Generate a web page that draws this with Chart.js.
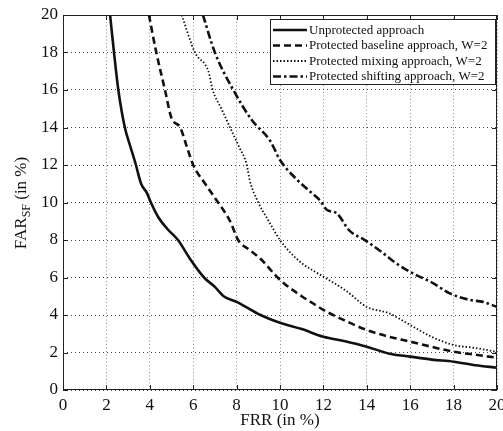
<!DOCTYPE html>
<html>
<head>
<meta charset="utf-8">
<script src="https://cdn.jsdelivr.net/npm/chart.js@4"></script>
<style>
  html, body { margin: 0; padding: 0; background: #fff; }
  #wrap { width: 503px; height: 431px; }
</style>
</head>
<body>
<div id="wrap"><canvas id="farChart" width="503" height="431"></canvas></div>
<script>
// curves: FRR (x) vs FAR_SF (y), both in %
const unprotectedFRR = [2.17, 2.35, 2.55, 2.85, 3.1, 3.36, 3.6, 3.87, 4.05, 4.4, 4.8, 5.3, 5.85, 6.5, 7.0, 7.4, 8.0, 9.1, 10.0, 11.0, 12.0, 13.0, 14.0, 15.0, 16.0, 17.0, 18.0, 19.0, 20.0];
const unprotectedFAR = [20, 18, 16, 14, 13, 12, 11, 10.5, 10, 9.2, 8.6, 8, 7, 6, 5.5, 5, 4.7, 4, 3.59, 3.25, 2.84, 2.6, 2.31, 1.95, 1.78, 1.62, 1.51, 1.32, 1.19];

const baselineFRR = [3.96, 4.3, 4.7, 5.0, 5.4, 5.7, 6.0, 6.55, 7.15, 7.7, 8.07, 8.6, 9.1, 10.0, 11.0, 11.5, 12.0, 13.0, 14.0, 15.0, 16.0, 17.0, 18.0, 19.0, 20.0];
const baselineFAR = [20, 18, 16, 14.5, 14, 13, 12, 11, 10, 9, 8, 7.47, 7.0, 5.87, 5.0, 4.64, 4.27, 3.7, 3.2, 2.85, 2.58, 2.3, 2.04, 1.88, 1.72];

const mixingFRR = [5.47, 6.08, 6.7, 6.9, 7.3, 7.7, 8.1, 8.47, 8.6, 9.0, 9.45, 10.0, 10.5, 11.0, 12.0, 13.0, 14.0, 15.0, 16.0, 17.0, 18.0, 19.0, 20.0];
const mixingFAR = [20, 18, 17, 16, 15, 14, 13, 12, 11.2, 10, 9.07, 8.0, 7.3, 6.77, 6.04, 5.33, 4.43, 4.1, 3.47, 2.83, 2.4, 2.24, 2.03];

const shiftingFRR = [6.45, 7.0, 7.85, 8.7, 9.54, 10.0, 10.8, 11.3, 11.85, 12.17, 12.6, 13.2, 13.9, 14.75, 15.3, 16.0, 17.05, 17.8, 18.76, 19.35, 20.0];
const shiftingFAR = [20, 18, 16, 14.4, 13.3, 12.27, 11.2, 10.67, 10.1, 9.6, 9.44, 8.5, 8.0, 7.3, 6.8, 6.3, 5.7, 5.17, 4.8, 4.7, 4.43];

const seriesNames = ['Unprotected approach', 'Protected baseline approach, W=2', 'Protected mixing approach, W=2', 'Protected shifting approach, W=2'];
const tickValues = [0, 2, 4, 6, 8, 10, 12, 14, 16, 18, 20];

const SERIF = '"Liberation Serif", "Times New Roman", serif';

function pts(xs, ys) {
    return xs.map((x, i) => ({ x: x, y: ys[i] }));
}

function lineSet(label, xs, ys, dash, width) {
    return {
        label: label,
        data: pts(xs, ys),
        borderColor: '#111',
        borderWidth: width,
        borderDash: dash,
        pointRadius: 0,
        fill: false,
        cubicInterpolationMode: 'monotone'
    };
}

// box, inward ticks, legend and the y title with its subscript
const decorations = {
    id: 'decorations',
    afterDatasetsDraw(chart) {
        const c = chart.ctx;
        const a = chart.chartArea;
        const xs = chart.scales.x, ys = chart.scales.y;
        c.save();
        c.strokeStyle = '#222';
        c.lineWidth = 1;
        c.setLineDash([]);
        c.strokeRect(a.left + 0.5, a.top + 0.5, a.right - a.left - 1, a.bottom - a.top - 1);
        c.beginPath();
        tickValues.forEach(v => {
            const px = Math.round(xs.getPixelForValue(v)) + 0.5;
            c.moveTo(px, a.bottom); c.lineTo(px, a.bottom - 5);
            c.moveTo(px, a.top); c.lineTo(px, a.top + 5);
            const py = Math.round(ys.getPixelForValue(v)) + 0.5;
            c.moveTo(a.left, py); c.lineTo(a.left + 5, py);
            c.moveTo(a.right, py); c.lineTo(a.right - 5, py);
        });
        c.stroke();

        // legend
        const lx = 270, ly = 19, lw = 225, lh = 65;
        c.fillStyle = '#fff';
        c.fillRect(lx, ly, lw, lh);
        c.strokeStyle = '#222';
        c.strokeRect(lx + 0.5, ly + 0.5, lw, lh);
        c.font = '13px ' + SERIF;
        c.textBaseline = 'middle';
        c.textAlign = 'left';
        chart.data.datasets.forEach((ds, i) => {
            const y = ly + 11 + i * 15.5;
            c.beginPath();
            c.setLineDash(ds.borderDash);
            c.lineWidth = ds.borderWidth;
            c.strokeStyle = '#111';
            c.moveTo(lx + 3, y); c.lineTo(lx + 37, y);
            c.stroke();
            c.setLineDash([]);
            c.fillStyle = '#111';
            c.fillText(ds.label, lx + 39, y + 0.5);
        });

        // y axis title: FAR_SF (in %)
        c.translate(20, 203);
        c.rotate(-Math.PI / 2);
        const big = '17px ' + SERIF, small = '12px ' + SERIF;
        c.font = big;
        const w1 = c.measureText('FAR').width;
        const w3 = c.measureText(' (in %)').width;
        c.font = small;
        const w2 = c.measureText('SF').width;
        let x0 = -(w1 + w2 + w3) / 2;
        c.textBaseline = 'alphabetic';
        c.font = big;
        c.fillText('FAR', x0, 6);
        c.font = small;
        c.fillText('SF', x0 + w1, 10);
        c.font = big;
        c.fillText(' (in %)', x0 + w1 + w2, 6);
        c.restore();
    }
};

const ctx = document.getElementById('farChart').getContext('2d');
const farChart = new Chart(ctx, {
    type: 'line',
    data: {
        datasets: [
            lineSet(seriesNames[0], unprotectedFRR, unprotectedFAR, [], 2.6),
            lineSet(seriesNames[1], baselineFRR, baselineFAR, [7, 4], 2.6),
            lineSet(seriesNames[2], mixingFRR, mixingFAR, [1.5, 2], 1.8),
            lineSet(seriesNames[3], shiftingFRR, shiftingFAR, [8, 3, 2.5, 3], 2.6)
        ]
    },
    options: {
        responsive: false,
        animation: false,
        devicePixelRatio: 1,
        layout: { padding: { top: 15, right: 6, left: 0, bottom: 0 } },
        plugins: {
            legend: { display: false },
            tooltip: { enabled: false }
        },
        scales: {
            x: {
                type: 'linear',
                min: 0,
                max: 20,
                afterBuildTicks: s => { s.ticks = tickValues.map(v => ({ value: v })); },
                afterFit: s => { s.height = 41; s.paddingLeft = 0; s.paddingRight = 0; },
                grid: { color: '#8a8a8a', lineWidth: 1, drawTicks: false },
                border: { display: false, dash: [1, 2.5] },
                ticks: { color: '#111', padding: 5, maxRotation: 0, font: { family: SERIF, size: 17 } },
                title: { display: true, text: 'FRR (in %)', color: '#111', padding: { top: 0, bottom: 0 }, font: { family: SERIF, size: 17 } }
            },
            y: {
                type: 'linear',
                min: 0,
                max: 20,
                afterBuildTicks: s => { s.ticks = tickValues.map(v => ({ value: v })); },
                afterFit: s => { s.width = 63; s.paddingTop = 0; s.paddingBottom = 0; },
                grid: { color: '#444', lineWidth: 1, drawTicks: false },
                border: { display: false, dash: [1, 3] },
                ticks: { color: '#111', padding: 5, font: { family: SERIF, size: 17 } }
            }
        }
    },
    plugins: [decorations]
});
</script>
</body>
</html>
